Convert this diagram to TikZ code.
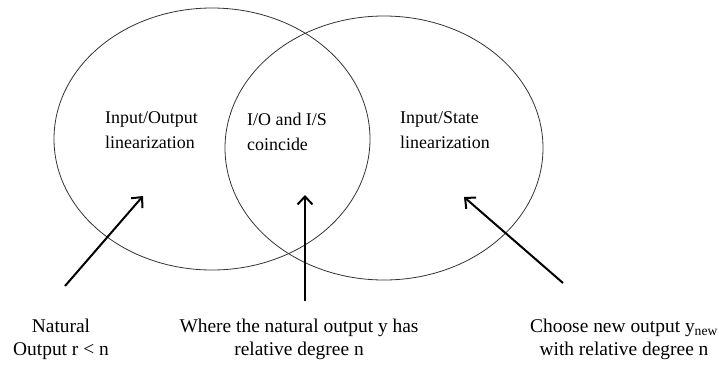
\documentclass[tikz,border=0pt]{standalone}
\usepackage{fontspec}
\setmainfont{Liberation Serif}
\usetikzlibrary{arrows.meta}
\begin{document}
\begin{tikzpicture}[x=1bp,y=-1bp,
  setline/.style={draw=black!80,line width=0.8bp},
  label/.style={font=\fontsize{18}{25}\selectfont,inner sep=0pt,align=left},
  caption/.style={font=\fontsize{19.5}{23}\selectfont,inner sep=0pt,align=center},
  pointer/.style={draw=black,line width=2bp,-{Straight Barb[length=8bp,width=15bp,line width=2bp]}}]
\useasboundingbox (0,0) rectangle (719,368);
% the two overlapping sets
\draw[setline] (212,139) ellipse [x radius=158, y radius=131];
\draw[setline] (384,148) ellipse [x radius=159, y radius=132];
% region labels (anchored at the baseline of the last line)
\node[label,anchor=base west] (io) at (105,148) {Input/Output\\linearization};
\node[label,anchor=base west] (both) at (247,150) {I/O and I/S\\coincide};
\node[label,anchor=base west] (is) at (400,148) {Input/State\\linearization};
% captions below
\node[caption,anchor=base] (nat) at (61,355) {Natural\\Output r < n};
\node[caption,anchor=base] (where) at (299,355) {Where the natural output y has\\relative degree n};
\node[caption,anchor=base] (choose) at (624,355) {Choose new output y\textsubscript{new}\\with relative degree n};
% arrows into the regions
\coordinate (a1) at (65,286);  \coordinate (b1) at (143,196);
\coordinate (a2) at (305,301); \coordinate (b2) at (305,195);
\coordinate (a3) at (563,283); \coordinate (b3) at (464,197);
\draw[pointer] (a1) -- (b1);
\draw[pointer] (a2) -- (b2);
\draw[pointer] (a3) -- (b3);
\end{tikzpicture}
\end{document}
